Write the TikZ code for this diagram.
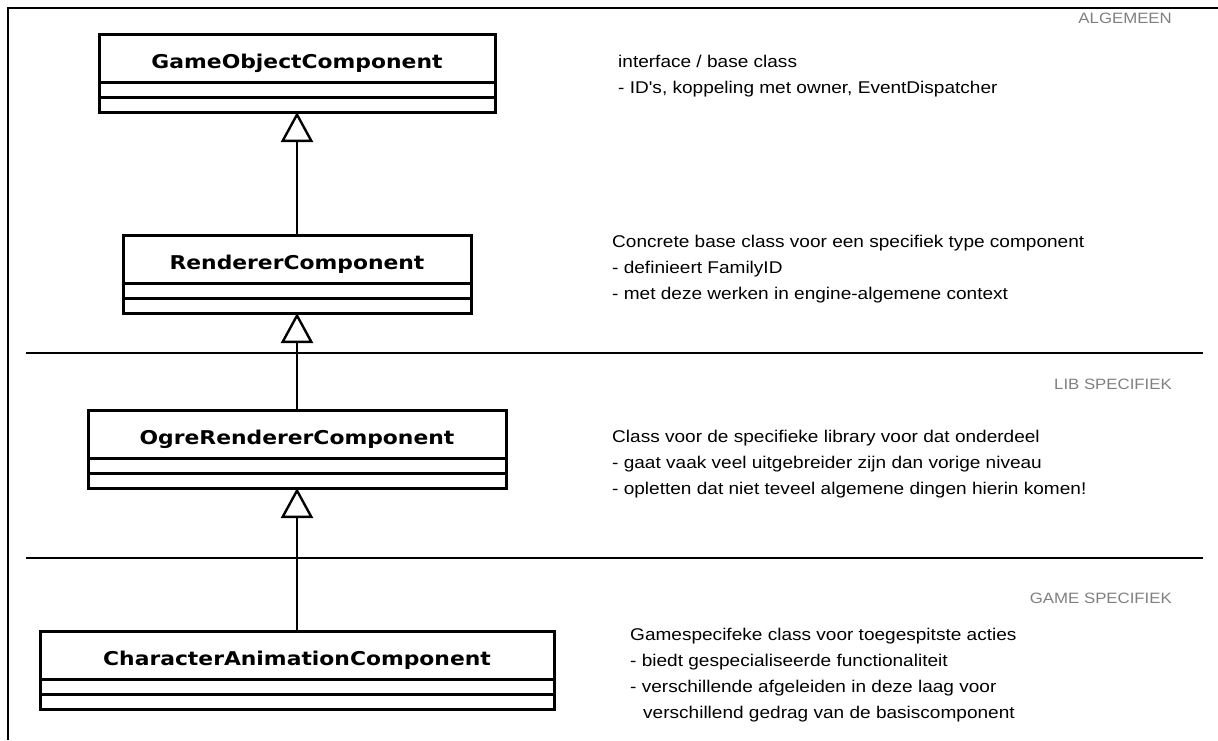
\documentclass[tikz,border=0pt]{standalone}
\usepackage{fontspec}
\setmainfont{Liberation Sans}
\newfontfamily\classfont[FakeStretch=1.15]{DejaVu Sans}
\newfontfamily\notefont[FakeStretch=1.12]{Liberation Sans}
\usepackage{tikz}
\usetikzlibrary{arrows.meta,positioning}
\tikzset{
  classname/.style={draw, line width=3pt, minimum height=48pt, inner sep=0pt, outer sep=0pt, text height=20pt, text depth=0pt, font=\classfont\bfseries\fontsize{19}{22}\selectfont},
  compart/.style={draw, line width=3pt, minimum height=15pt, inner sep=0pt, outer sep=0pt},
  inherit/.style={{Triangle[open, length=30pt, width=32pt, line width=2.4pt]}-, line width=2.6pt},
  layer/.style={line width=2.6pt},
  note/.style={anchor=north west, align=left, inner sep=0pt, font=\notefont\fontsize{17}{26}\selectfont},
  tier/.style={anchor=base east, inner sep=0pt, text=gray, font=\notefont\fontsize{15}{17}\selectfont}
}

\begin{document}
\begin{tikzpicture}[x=1pt,y=-1pt]
\useasboundingbox (0,0) rectangle (1218,740);
\draw[line width=1.8pt] (1218,8) -- (8,8) -- (8,740);

% layers
\draw[layer] (26,353) -- (1203,353);
\draw[layer] (26,558) -- (1203,558);
\node[tier] (algemeen) at (1172,23) {ALGEMEEN};
\node[tier] (libspec) at (1172,389) {LIB SPECIFIEK};
\node[tier] (gamespec) at (1172,603) {GAME SPECIFIEK};

% classes
\node[classname, minimum width=396pt] (goc) at (297,58) {GameObjectComponent};
\node[compart, minimum width=396pt, below=0pt of goc] (goc-a) {};
\node[compart, minimum width=396pt, below=0pt of goc-a] (goc-m) {};

\node[classname, minimum width=348pt] (ren) at (297,259) {RendererComponent};
\node[compart, minimum width=348pt, below=0pt of ren] (ren-a) {};
\node[compart, minimum width=348pt, below=0pt of ren-a] (ren-m) {};

\node[classname, minimum width=418pt] (ogre) at (297,434) {OgreRendererComponent};
\node[compart, minimum width=418pt, below=0pt of ogre] (ogre-a) {};
\node[compart, minimum width=418pt, below=0pt of ogre-a] (ogre-m) {};

\node[classname, minimum width=514pt] (char) at (297,655) {CharacterAnimationComponent};
\node[compart, minimum width=514pt, below=0pt of char] (char-a) {};
\node[compart, minimum width=514pt, below=0pt of char-a] (char-m) {};

\draw[inherit] (goc-m.south) -- (ren.north);
\draw[inherit] (ren-m.south) -- (ogre.north);
\draw[inherit] (ogre-m.south) -- (char.north);

% notes
\node[note] (goc-note) at (618,55) {interface / base class\\- ID's, koppeling met owner, EventDispatcher};
\node[note] (ren-note) at (612,235) {Concrete base class voor een specifiek type component\\- definieert FamilyID\\- met deze werken in engine-algemene context};
\node[note] (ogre-note) at (612,430) {Class voor de specifieke library voor dat onderdeel\\- gaat vaak veel uitgebreider zijn dan vorige niveau\\- opletten dat niet teveel algemene dingen hierin komen!};
\node[note] (char-note) at (630,628) {Gamespecifeke class voor toegespitste acties\\- biedt gespecialiseerde functionaliteit\\- verschillende afgeleiden in deze laag voor\\\hspace*{13pt}verschillend gedrag van de basiscomponent};
\end{tikzpicture}
\end{document}
